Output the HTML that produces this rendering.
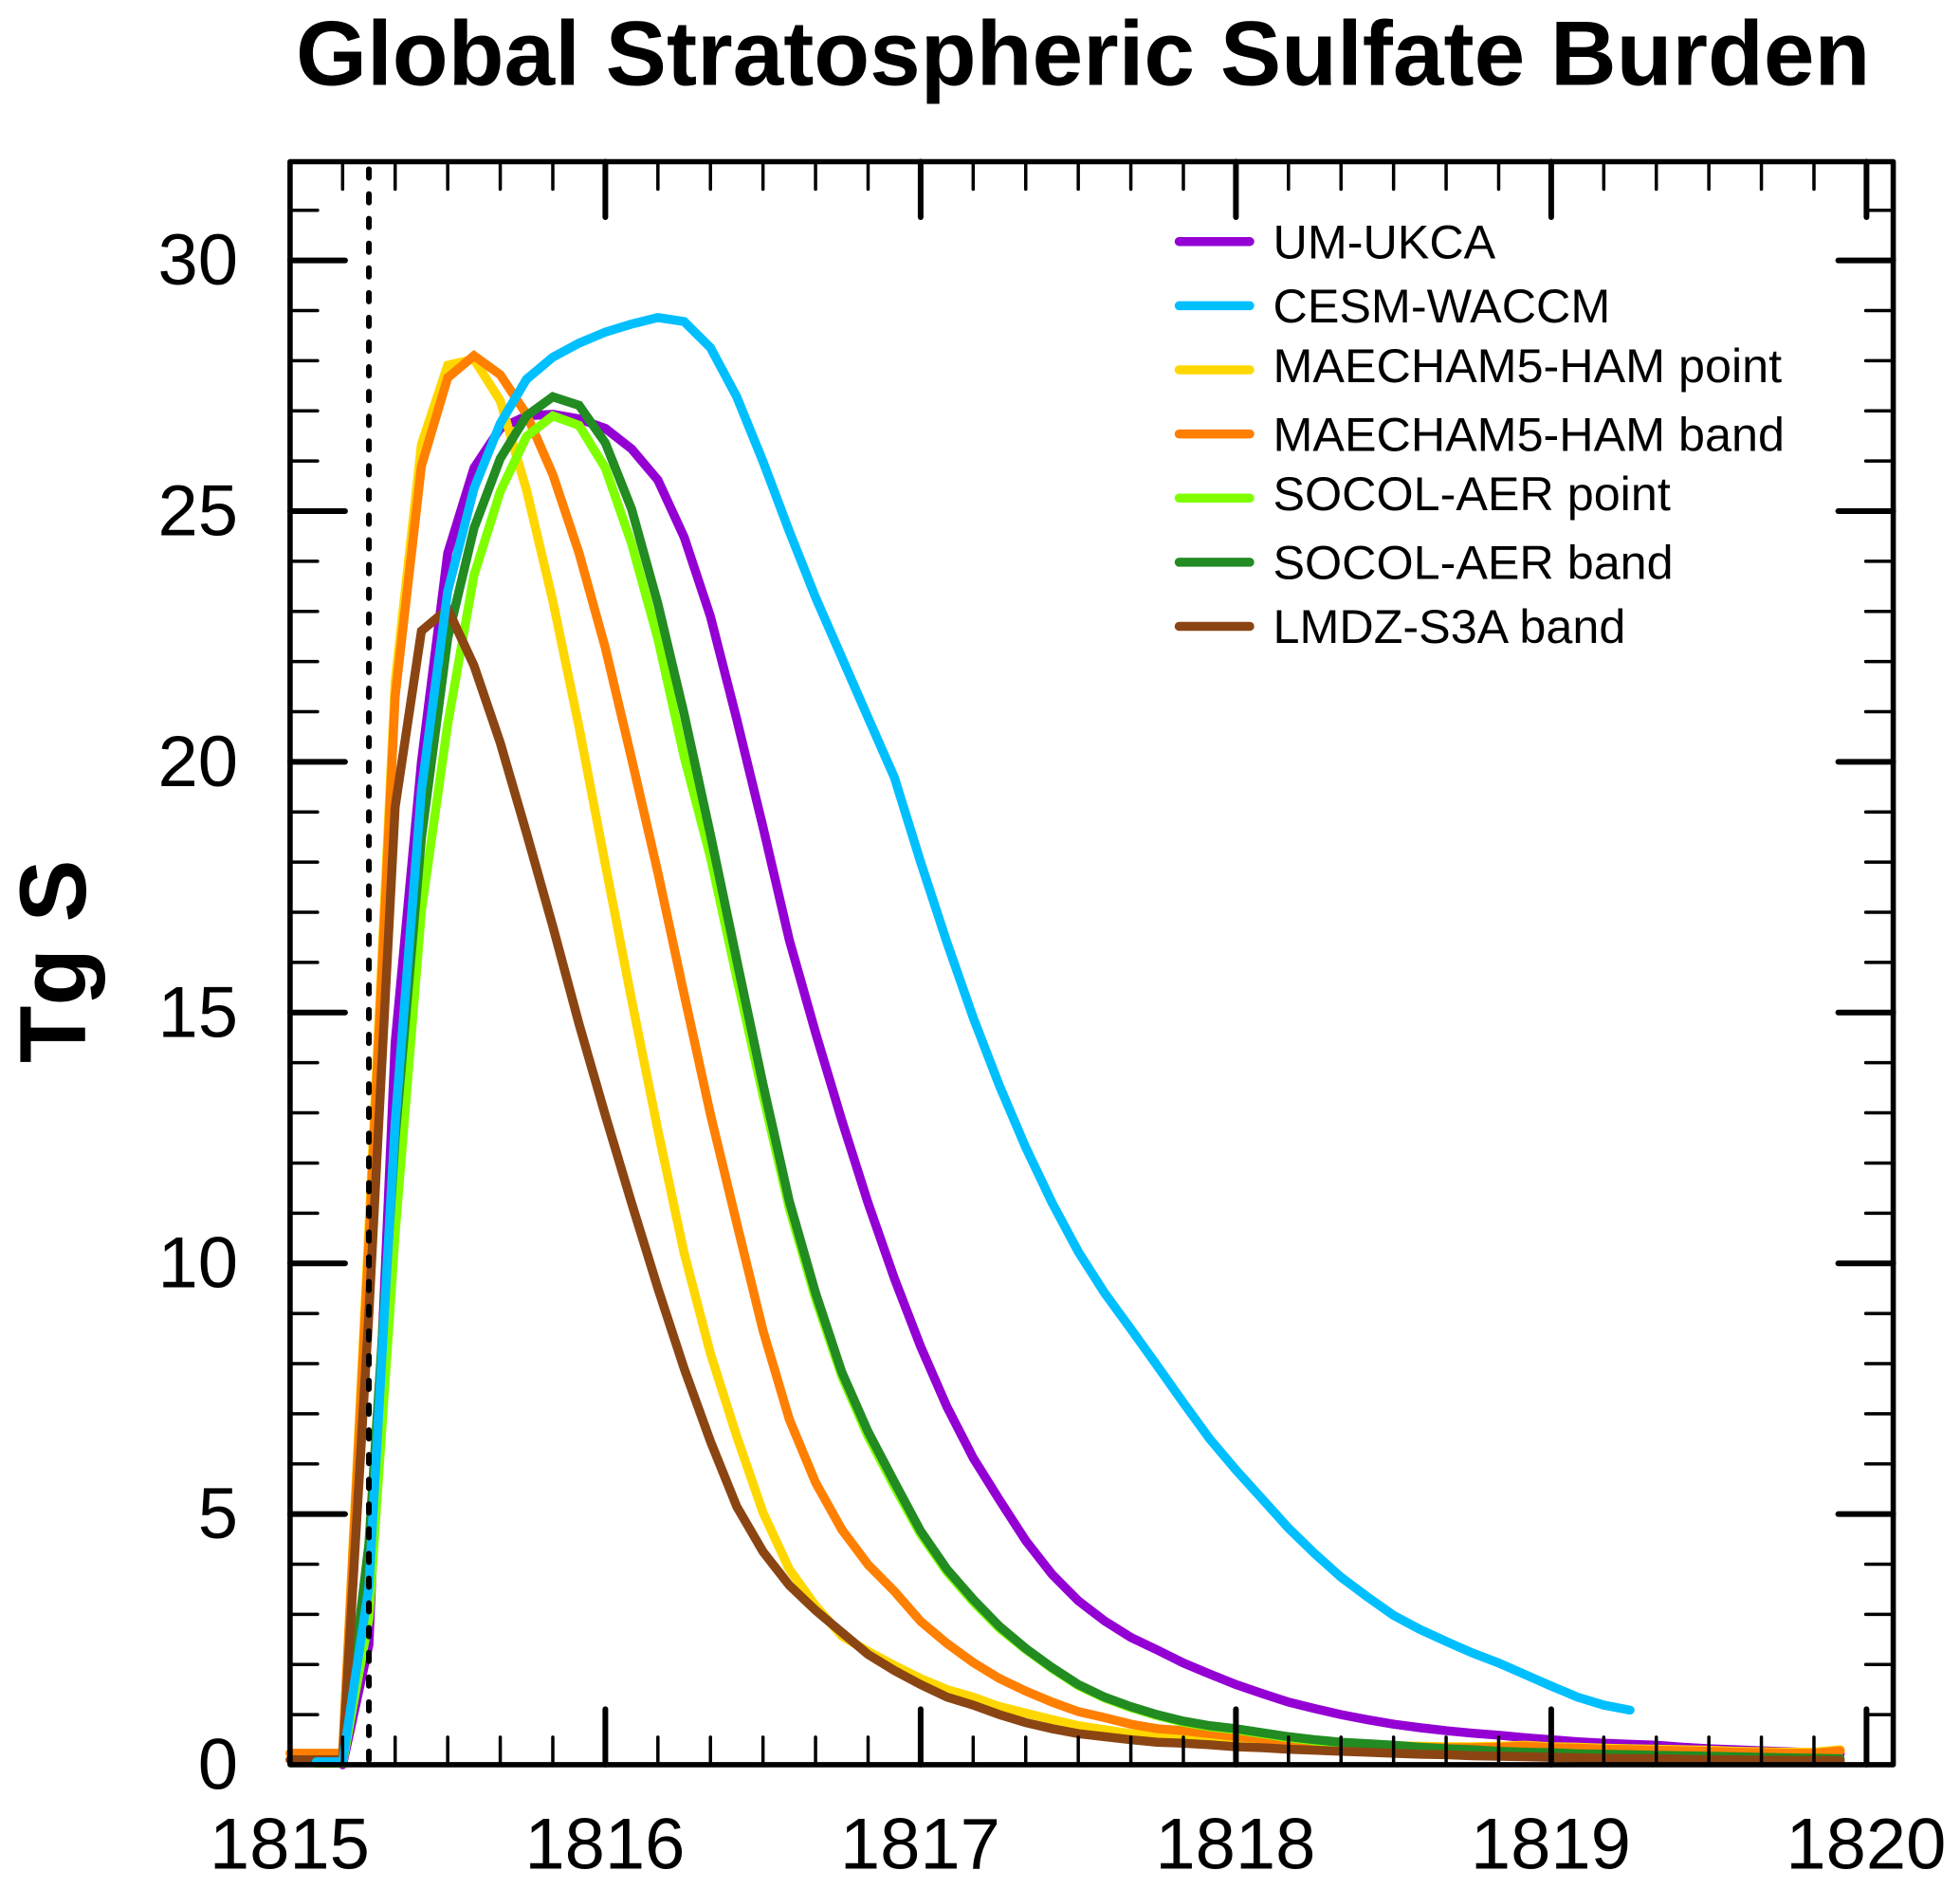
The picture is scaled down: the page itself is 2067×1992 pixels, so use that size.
<!DOCTYPE html>
<html lang="en">
<head>
<meta charset="utf-8">
<title>Global Stratospheric Sulfate Burden</title>
<style>
html,body{margin:0;padding:0;background:#fff;width:2067px;height:1992px;overflow:hidden}
svg{display:block}
text{font-family:"Liberation Sans",Arial,Helvetica,sans-serif;fill:#000}
</style>
</head>
<body>
<svg id="chart" xmlns="http://www.w3.org/2000/svg" width="2067" height="1992" viewBox="0 0 2067 1992">
  <rect x="0" y="0" width="2067" height="1992" fill="#fff"/>
  <text x="312" y="89.5" font-size="96.4" font-weight="700">Global Stratospheric Sulfate Burden</text>
  <text transform="translate(90,1121) rotate(-90)" font-size="99" font-weight="700">Tg S</text>
  <g id="series-layer"></g>
  <g id="axis-layer"></g>
  <g id="legend-layer"></g>
</svg>
<script>
// Monthly burden values (Tg S), one entry per month from 1815.0; null = not plotted.
const umUkca = [null,null,0,2.39,14.4,20,24.16,25.86,26.65,26.9,26.93,26.84,26.65,26.24,25.62,24.48,22.9,20.85,18.7,16.45,14.6,12.85,11.2,9.7,8.34,7.14,6.12,5.28,4.47,3.8,3.27,2.87,2.54,2.29,2.03,1.81,1.6,1.42,1.25,1.12,1,.9,.81,.74,.68,.63,.59,.54,.5,.46,.43,.41,.39,.35,.32,.3,.28,.26,.24,.22];
const cesmWaccm = [null,.06,.06,3.55,12.8,19.43,23.4,25.45,26.75,27.63,28.07,28.35,28.57,28.73,28.86,28.78,28.26,27.28,25.99,24.6,23.28,22.08,20.88,19.69,18,16.4,14.9,13.54,12.31,11.21,10.23,9.41,8.69,7.96,7.22,6.5,5.88,5.3,4.72,4.21,3.74,3.35,2.98,2.7,2.46,2.23,2.03,1.8,1.57,1.35,1.19,1.09];
const maechamPoint = [.23,.23,.23,10.7,21.6,26.33,27.91,28.03,27.2,25.42,23.21,20.69,17.95,15.25,12.65,10.2,8.2,6.55,5.03,3.9,3.17,2.57,2.26,1.98,1.72,1.5,1.35,1.16,1.03,.9,.78,.7,.62,.59,.56,.53,.5,.47,.44,.42,.4,.39,.38,.37,.36,.36,.37,.39,.36,.35,.33,.32,.31,.3,.29,.27,.26,.25,.25,.3];
const maechamBand = [.23,.23,.23,10.4,21.3,25.9,27.66,28.1,27.72,26.93,25.73,24.16,22.27,20.06,17.79,15.36,12.97,10.8,8.66,6.89,5.63,4.69,3.99,3.46,2.86,2.42,2.04,1.72,1.47,1.25,1.06,.94,.81,.72,.68,.62,.56,.52,.47,.45,.43,.4,.37,.35,.34,.34,.35,.37,.34,.33,.31,.3,.29,.28,.27,.25,.24,.23,.23,.28];
const socolPoint = [null,.03,.03,2.92,10.6,17.03,20.75,23.72,25.39,26.49,26.9,26.71,25.86,24.35,22.45,20.1,18.1,15.7,13.35,11.1,9.3,7.75,6.55,5.55,4.6,3.85,3.25,2.72,2.3,1.92,1.58,1.33,1.14,.98,.85,.76,.7,.62,.54,.48,.43,.4,.37,.33,.3,.28,.25,.23,.22,.2,.19,.18,.17,.16,.15,.14,.13,.12,.11,.1];
const socolBand = [null,.05,.05,4.4,12.5,18.48,22.46,24.66,26.05,26.9,27.28,27.11,26.36,25.04,23.15,20.95,18.55,16.05,13.57,11.24,9.41,7.83,6.64,5.64,4.66,3.9,3.3,2.76,2.32,1.94,1.6,1.35,1.16,1,.87,.78,.72,.64,.56,.5,.45,.42,.39,.35,.32,.3,.27,.25,.24,.22,.21,.2,.19,.18,.17,.16,.15,.14,.13,.12];
const lmdzBand = [.1,.1,.1,9,19.1,22.61,23.05,21.92,20.38,18.58,16.72,14.77,12.95,11.2,9.5,7.9,6.45,5.15,4.25,3.58,3.08,2.64,2.2,1.88,1.6,1.35,1.19,1,.84,.72,.62,.56,.5,.45,.43,.4,.36,.34,.31,.29,.27,.25,.23,.21,.2,.18,.17,.16,.15,.14,.13,.12,.12,.11,.1,.1,.09,.09,.09,.08];

// Legend and axis content
const legendLabels = ['UM-UKCA','CESM-WACCM','MAECHAM5-HAM point','MAECHAM5-HAM band','SOCOL-AER point','SOCOL-AER band','LMDZ-S3A band'];
const legendValues = [umUkca,cesmWaccm,maechamPoint,maechamBand,socolPoint,socolBand,lmdzBand];
const legendColors = ['#9400d3','#00bfff','#ffd700','#ff7f00','#7fff00','#228b22','#8b4513'];
const legendBaselineNudge = [272.5,340,403,475.5,538,610.5,678];
const xTickLabels = ['1815','1816','1817','1818','1819','1820'];
const yTickLabels = ['0','5','10','15','20','25','30'];
const eruptionDate = [1815.25];
const drawOrder = [0,2,3,4,5,6,1];

const NS = 'http://www.w3.org/2000/svg';
const plot = {left:305.9, right:1996.6, top:170.5, bottom:1860.9};
const xMin = 1815, yMin = 0;
const xScalePx = 332.5, yScalePx = 52.88;
function sx(v){ return plot.left + (v - xMin) * xScalePx; }
function sy(v){ return 1861 - (v - yMin) * yScalePx; }
function make(tag, attrs, parent){
  const el = document.createElementNS(NS, tag);
  for (const k in attrs) el.setAttribute(k, attrs[k]);
  parent.appendChild(el);
  return el;
}
const seriesLayer = document.getElementById('series-layer');
const axisLayer = document.getElementById('axis-layer');
const legendLayer = document.getElementById('legend-layer');

// Series
drawOrder.forEach(function(i){
  const pts = [];
  legendValues[i].forEach(function(v, m){
    if (v !== null) pts.push(sx(xMin + m / 12).toFixed(2) + ',' + sy(v).toFixed(2));
  });
  const line = make('polyline', {points:pts.join(' '), fill:'none', stroke:legendColors[i], 'stroke-width':9.5, 'stroke-linejoin':'miter', 'stroke-miterlimit':6, 'stroke-linecap':'round'}, seriesLayer);
  
  
});

// Eruption marker
const eruption = make('line', {x1:sx(eruptionDate[0]), x2:sx(eruptionDate[0]), y1:178.5, y2:plot.bottom, stroke:'#000', 'stroke-width':6, 'stroke-dasharray':'9 17.07', 'stroke-linecap':'round'}, axisLayer);



// X ticks (major each year, minor every two months), top and bottom
const xFirst = Number(xTickLabels[0]);
const xLast = Number(xTickLabels[xTickLabels.length - 1]);
for (let n = 0; n <= (xLast - xFirst) * 6; n++){
  const major = n % 6 === 0;
  if (n === 0) continue;
  const x = sx(xFirst + n / 6);
  const len = major ? 58.5 : 29;
  const w = major ? 6 : 3.5;
  const b = make('line', {x1:x, x2:x, y1:plot.bottom, y2:plot.bottom - len, stroke:'#000', 'stroke-width':w, 'stroke-linecap':'round'}, axisLayer);
  
  
  const t = make('line', {x1:x, x2:x, y1:plot.top, y2:plot.top + len, stroke:'#000', 'stroke-width':w, 'stroke-linecap':'round'}, axisLayer);
  
  
}
xTickLabels.forEach(function(lab){
  const t = make('text', {x:sx(Number(lab)) - 0.5, y:1970.5, 'font-size':76, 'text-anchor':'middle'}, axisLayer);
  t.textContent = lab;
  
  
});

// Y ticks (major every 5, minor every 1), left and right
for (let v = 1; v <= 31; v++){
  const major = v % 5 === 0;
  const y = sy(v);
  const len = major ? 58 : 29;
  const w = major ? 6 : 3.5;
  const l = make('line', {x1:plot.left, x2:plot.left + len, y1:y, y2:y, stroke:'#000', 'stroke-width':w, 'stroke-linecap':'round'}, axisLayer);
  
  
  const r = make('line', {x1:plot.right, x2:plot.right - len, y1:y, y2:y, stroke:'#000', 'stroke-width':w, 'stroke-linecap':'round'}, axisLayer);
  
  
}
yTickLabels.forEach(function(lab){
  const t = make('text', {x:251, y:sy(Number(lab)) + 25.5, 'font-size':76, 'text-anchor':'end'}, axisLayer);
  t.textContent = lab;
  
  
});

// Frame
const frame = make('rect', {x:plot.left, y:plot.top, width:plot.right - plot.left, height:plot.bottom - plot.top, fill:'none', stroke:'#000', 'stroke-width':5.6, 'stroke-linejoin':'round'}, axisLayer);



// Legend
legendLabels.forEach(function(lab, i){
  const ly = 254.7 + 67.63 * i;
  const sw = make('line', {x1:1243.5, x2:1318, y1:ly, y2:ly, stroke:legendColors[i], 'stroke-width':9.5, 'stroke-linecap':'round'}, legendLayer);
  
  
  const t = make('text', {x:1342.5, y:legendBaselineNudge[i], 'font-size':50.3}, legendLayer);
  t.textContent = lab;
  
  
});
</script>
</body>
</html>
